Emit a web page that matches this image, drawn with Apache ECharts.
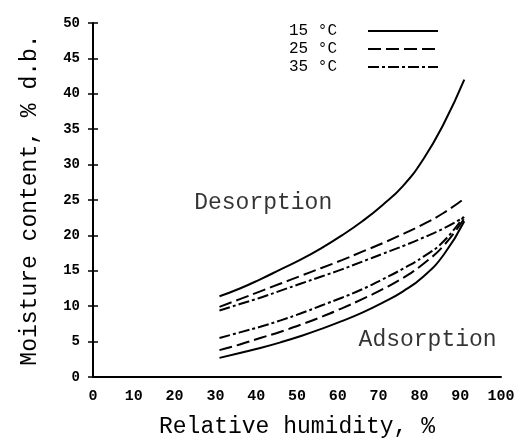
<!DOCTYPE html>
<html>
<head>
<meta charset="utf-8">
<script src="https://cdn.jsdelivr.net/npm/echarts@6/dist/echarts.min.js"></script>
<style>
html, body { margin: 0; padding: 0; background: #fff; }
#Builder { width: 526px; height: 445px; }
</style>
</head>
<body>
<div id="Builder"></div>
<script>
// relative humidity, % (x values shared by all curves)
var rh = [31, 36, 41, 46, 51, 56, 61, 66, 71, 76, 81, 86, 91]
var temps = ['15 °C', '25 °C', '35 °C']
var yTicks = [0, 5, 10, 15, 20, 25, 30, 35, 40, 45, 50]

// moisture content, % d.b.
var des15 = [11.4, 12.5, 13.8, 15.2, 16.6, 18.2, 20.0, 22.0, 24.3, 27.0, 30.8, 35.8, 42.0]
var des25 = [9.9, 11.0, 12.1, 13.2, 14.3, 15.4, 16.5, 17.7, 18.9, 20.2, 21.6, 23.2, 25.2]
var des35 = [9.4, 10.3, 11.2, 12.2, 13.2, 14.2, 15.2, 16.3, 17.4, 18.5, 19.7, 21.0, 22.6]
var ads15 = [2.7, 3.4, 4.1, 4.9, 5.8, 6.8, 7.9, 9.1, 10.5, 12.1, 14.2, 17.3, 22.0]
var ads25 = [3.8, 4.6, 5.5, 6.4, 7.4, 8.5, 9.7, 11.0, 12.4, 14.0, 16.0, 18.6, 22.4]
var ads35 = [5.5, 6.3, 7.1, 8.0, 9.0, 10.1, 11.2, 12.4, 13.8, 15.3, 17.0, 19.2, 22.8]

var notes = ['Desorption', 'Adsorption']
var noteX = [24.8, 65.1]
var noteY = [24.6, 5.2]

var mono = '"Liberation Mono", "DejaVu Sans Mono", monospace'
var dashes = ['solid', [13, 5], [11, 3, 3, 3]]

function curve(name, ys, k) {
    return {
        name: name,
        type: 'line',
        smooth: true,
        symbol: 'none',
        lineStyle: { color: '#000', width: 2, type: dashes[k] },
        itemStyle: { color: '#000' },
        data: rh.map(function(x, i) { return [x, ys[i]] })
    }
}

var option = {
    animation: false,
    backgroundColor: '#fff',
    grid: { left: 93, right: 25, top: 23, bottom: 68 },
    legend: {
        data: temps,
        orient: 'vertical',
        right: 82,
        top: 18,
        align: 'right',
        itemWidth: 70,
        itemHeight: 14,
        itemGap: 2,
        itemStyle: { opacity: 0 },
        textStyle: { fontFamily: mono, fontSize: 16, lineHeight: 16, color: '#000', padding: [0, 26, 0, 0] }
    },
    xAxis: {
        type: 'value',
        min: 0,
        max: 100,
        interval: 10,
        name: 'Relative humidity, %',
        nameLocation: 'middle',
        nameGap: 38,
        nameTextStyle: { fontFamily: mono, fontSize: 23, color: '#000' },
        splitLine: { show: false },
        axisTick: { show: false },
        axisLine: { lineStyle: { color: '#000', width: 2 } },
        axisLabel: { fontFamily: mono, fontSize: 15, fontWeight: 'bold', color: '#000', margin: 12 }
    },
    yAxis: [{
        type: 'value',
        min: yTicks[0],
        max: yTicks[yTicks.length - 1],
        interval: 5,
        name: 'Moisture content, % d.b.',
        nameLocation: 'middle',
        nameGap: 52,
        nameTextStyle: { fontFamily: mono, fontSize: 23, color: '#000' },
        splitLine: { show: false },
        axisLine: { lineStyle: { color: '#000', width: 2 } },
        axisTick: { length: 5, lineStyle: { color: '#000', width: 1.5 } },
        axisLabel: { fontFamily: mono, fontSize: 14, fontWeight: 'bold', color: '#000', margin: 13 }
    }, {
        // second copy only for the inner half of the cross ticks
        type: 'value',
        position: 'left',
        min: yTicks[0],
        max: yTicks[yTicks.length - 1],
        interval: 5,
        splitLine: { show: false },
        axisLine: { show: false },
        axisTick: { show: true, inside: true, length: 5, lineStyle: { color: '#000', width: 1.5 } },
        axisLabel: { show: false }
    }],
    series: [
        curve(temps[0], des15, 0),
        curve(temps[1], des25, 1),
        curve(temps[2], des35, 2),
        curve(temps[0], ads15, 0),
        curve(temps[1], ads25, 1),
        curve(temps[2], ads35, 2),
        {
            type: 'scatter',
            symbolSize: 0,
            silent: true,
            label: {
                show: true,
                position: 'right',
                distance: 0,
                fontFamily: mono,
                fontSize: 23,
                color: '#000',
                formatter: function(p) { return p.data[2] }
            },
            data: notes.map(function(t, i) { return [noteX[i], noteY[i], t] })
        }
    ]
}

function Builder(id, data) {
    var builder = echarts.init(document.getElementById(id))
    builder.setOption(data)
}
Builder('Builder', option)
</script>
</body>
</html>
